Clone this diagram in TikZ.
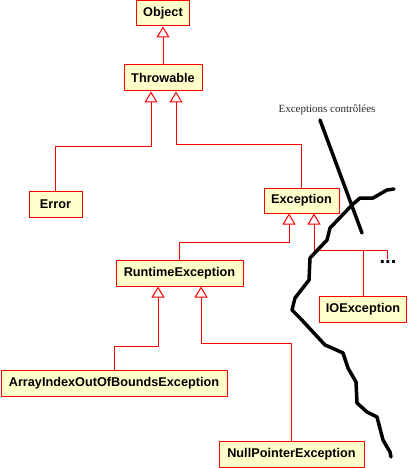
\documentclass[tikz,border=0pt]{standalone}
\usepackage{fontspec}
\setmainfont{Liberation Serif}
\newfontfamily\boxfont{Liberation Sans}
\usetikzlibrary{arrows.meta}
\definecolor{boxfill}{HTML}{FFFFCC}
\begin{document}
\begin{tikzpicture}[x=1pt,y=-1pt,
  cls/.style={draw=red, fill=boxfill, line width=1pt, inner sep=0pt, anchor=center,
    font=\boxfont\bfseries\fontsize{12.7}{14}\selectfont},
  inh/.style={draw=red, line width=1pt, -{Triangle[open, length=11pt, width=13pt, fill=white]}},
  link/.style={draw=red, line width=1pt},
  wall/.style={line width=3.5pt, line cap=round, line join=round}]
\useasboundingbox (0,0) rectangle (408,468);

\node[cls, minimum width=53pt, minimum height=25pt] (object) at (163,13.5) {Object};
\node[cls, minimum width=78pt, minimum height=26pt] (throwable) at (163,78) {Throwable};
\node[cls, minimum width=53pt, minimum height=26pt] (error) at (55.5,204) {Error};
\node[cls, minimum width=75pt, minimum height=25pt] (exception) at (301.5,200.5) {Exception};
\node[cls, minimum width=127pt, minimum height=26pt] (runtime) at (179.5,273) {RuntimeException};
\node[cls, minimum width=87pt, minimum height=26pt] (ioe) at (363,309) {IOException};
\node[cls, minimum width=226pt, minimum height=26pt] (aioobe) at (114,383) {ArrayIndexOutOfBoundsException};
\node[cls, minimum width=145pt, minimum height=26pt] (npe) at (291.5,454) {NullPointerException};

\coordinate (thrL) at ([xshift=-12pt]throwable.south);
\coordinate (thrR) at ([xshift=13pt]throwable.south);
\coordinate (excL) at ([xshift=-12.5pt]exception.south);
\coordinate (excR) at ([xshift=12.5pt]exception.south);
\coordinate (rtL) at ([xshift=-21.5pt]runtime.south);
\coordinate (rtR) at ([xshift=21.5pt]runtime.south);
\coordinate (more) at (387,259);

\draw[inh] (throwable.north) -- (object.south);
\draw[inh] (error.north) |- (thrL |- 0,146) -- (thrL);
\draw[inh] (exception.north) |- (thrR |- 0,144) -- (thrR);
\draw[inh] (runtime.north) |- (excL |- 0,242) -- (excL);
\draw[inh] (ioe.north) |- (excR |- 0,250) -- (excR);
\draw[link] (ioe.north |- 0,250) -| (more);
\draw[inh] (aioobe.north) |- (rtL |- 0,346) -- (rtL);
\draw[inh] (npe.north) |- (rtR |- 0,343) -- (rtR);

\node[inner sep=0pt, font=\boxfont\bfseries\fontsize{20}{22}\selectfont] (dots) at (388,262) {...};
\node[inner sep=0pt, text=black!85, font=\fontsize{11}{13}\selectfont] (label) at (327,110) {Exceptions contrôlées};

\draw[wall] (320,120) -- (362,233);
\draw[wall] (394,189) -- (387,190) -- (373,198) -- (360,198) -- (352,205) -- (330,228)
  -- (327,240) -- (310,258) -- (309,280) -- (295,298) -- (292,310) -- (300,318)
  -- (325,345) -- (332,348) -- (343,353) -- (348,368) -- (356,382) -- (357,403)
  -- (367,412) -- (377,417) -- (383,440) -- (390,452) -- (391,457);
\end{tikzpicture}
\end{document}
